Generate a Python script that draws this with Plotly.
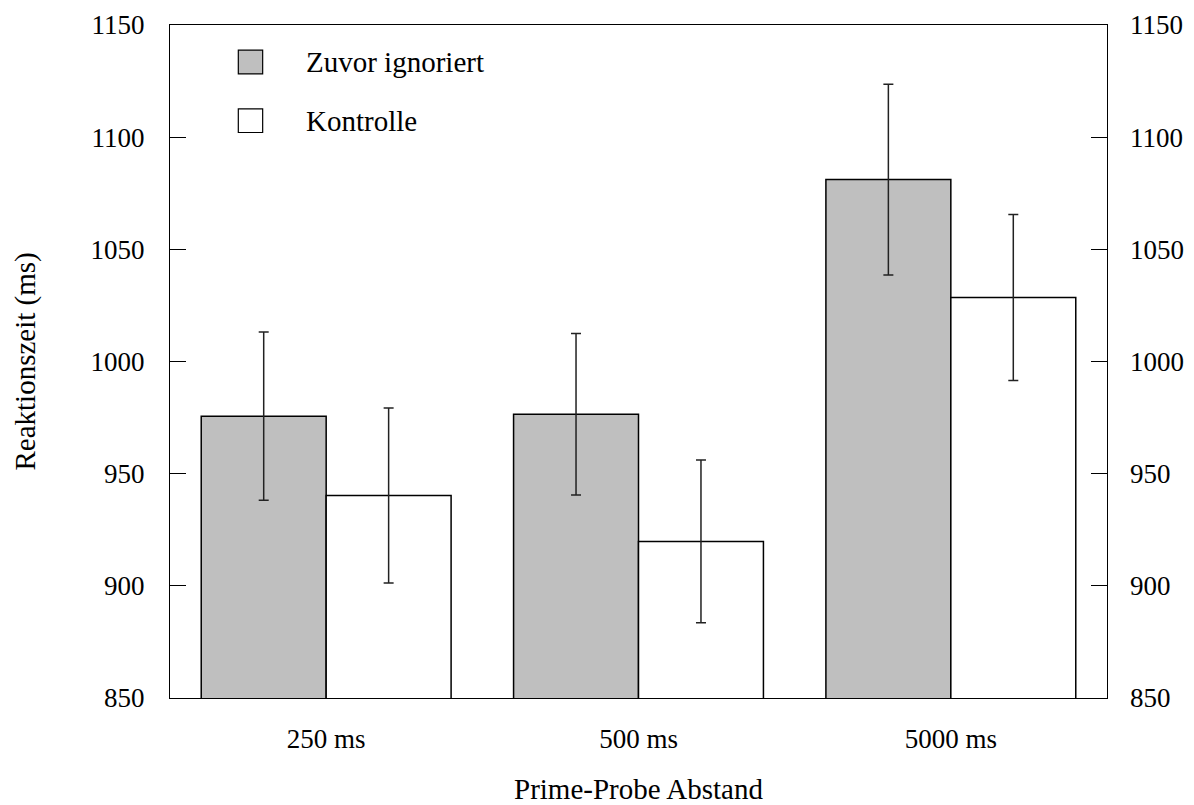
import plotly.graph_objects as go

categories = ["250 ms", "500 ms", "5000 ms"]
series_names = ["Zuvor ignoriert", "Kontrolle"]
ignoriert_mean = [975.6, 976.5, 1081.1]
ignoriert_err = [37.5, 36.0, 42.5]
kontrolle_mean = [940.3, 919.8, 1028.5]
kontrolle_err = [39.0, 36.3, 37.0]
y_ticks = [850, 900, 950, 1000, 1050, 1100, 1150]

FONT = "Liberation Serif"
FS = 27
FS_TEXT = 29

fig = go.Figure()
fig.add_trace(go.Bar(
    x=categories, y=ignoriert_mean, name=series_names[0],
    marker=dict(color="#bfbfbf", line=dict(color="black", width=1.5)),
    error_y=dict(type="data", array=ignoriert_err, color="#222222", thickness=1.5, width=5),
    showlegend=False,
))
fig.add_trace(go.Bar(
    x=categories, y=kontrolle_mean, name=series_names[1],
    marker=dict(color="white", line=dict(color="black", width=1.5)),
    error_y=dict(type="data", array=kontrolle_err, color="#222222", thickness=1.5, width=5),
    showlegend=False,
))
# invisible trace to activate the right-hand axis
fig.add_trace(go.Scatter(x=categories, y=kontrolle_mean, yaxis="y2", mode="markers",
                         marker=dict(opacity=0), showlegend=False, hoverinfo="skip"))

axis_font = dict(family=FONT, size=FS, color="black")
text_font = dict(family=FONT, size=FS_TEXT, color="black")

fig.update_layout(
    width=1194, height=805,
    margin=dict(l=162, r=95, t=17, b=115, autoexpand=False),
    paper_bgcolor="white", plot_bgcolor="white",
    barmode="group", bargap=0.2, bargroupgap=0,
    font=dict(family=FONT, size=FS, color="black"),
    xaxis=dict(
        range=[-0.5, 2.5], showline=True, linecolor="black", linewidth=1.2, mirror=True,
        ticks="", showgrid=False, zeroline=False, tickfont=axis_font, ticklabelstandoff=16,
        automargin=False,
    ),
    yaxis=dict(
        range=[850, 1150], tickvals=y_ticks, showline=True, linecolor="black", linewidth=1.2,
        mirror="ticks", ticks="inside", ticklen=16, tickcolor="black", tickwidth=1.2,
        showgrid=False, zeroline=False, tickfont=axis_font, ticklabelstandoff=19,
        automargin=False,
    ),
    yaxis2=dict(
        range=[850, 1150], tickvals=y_ticks, overlaying="y", side="right",
        showline=False, ticks="", showgrid=False, zeroline=False, tickfont=axis_font,
        ticklabelstandoff=22, automargin=False,
    ),
    showlegend=False,
)

# Axis titles
fig.add_annotation(text="Reaktionszeit (ms)", xref="paper", yref="paper", x=-0.1547, y=0.5,
                   xanchor="center", yanchor="middle", textangle=-90, showarrow=False,
                   font=text_font)
fig.add_annotation(text="Prime-Probe Abstand", xref="paper", yref="paper", x=0.5, y=-0.1355,
                   xanchor="center", yanchor="middle", showarrow=False, font=text_font)

# Legend drawn manually
legend_fill = ["#bfbfbf", "white"]
legend_box_y = [(0.9273, 0.9626), (0.8403, 0.8753)]
for name, fill, (y0, y1) in zip(series_names, legend_fill, legend_box_y):
    fig.add_shape(type="rect", xref="paper", yref="paper", x0=0.0729, x1=0.0989, y0=y0, y1=y1,
                  fillcolor=fill, line=dict(color="black", width=1.2))
    fig.add_annotation(text=name, xref="paper", yref="paper", x=0.143, y=(y0 + y1) / 2,
                       xanchor="left", yanchor="middle", showarrow=False, font=text_font)

fig.write_html("out.html")
